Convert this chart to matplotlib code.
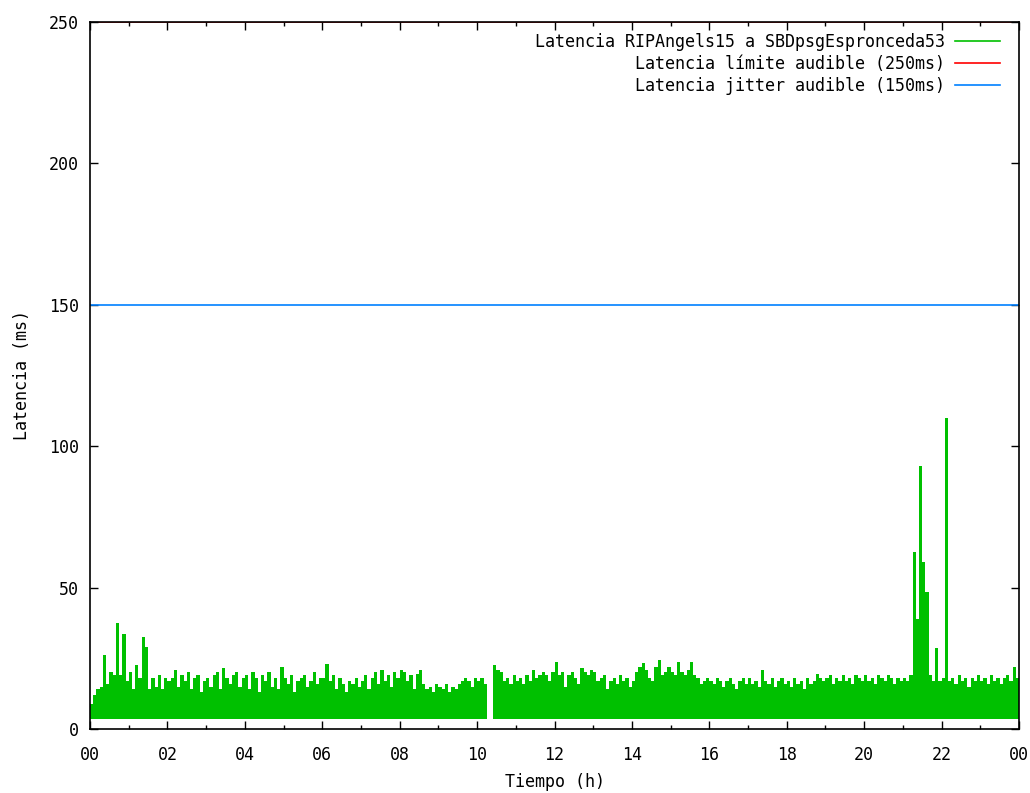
import numpy as np
import matplotlib
matplotlib.use("Agg")
import matplotlib.pyplot as plt
from matplotlib.ticker import FixedLocator, MultipleLocator


# Latencia maxima cada 5 minutos (ms), una fila por hora
latencia_max = [
    9, 12, 14, 15, 26, 16, 20, 19, 37.5, 19, 33.5, 17,          # 00
    20, 14, 22.5, 18, 32.5, 29, 14, 18, 15, 19, 14, 18,         # 01
    17, 18, 21, 15, 19, 17, 20, 14, 18, 19, 13, 17,             # 02
    18, 15, 19, 20, 14, 21.5, 18, 16, 19, 20, 15, 18,           # 03
    19, 14, 20, 18, 13, 19, 17, 20, 15, 18, 14, 22,             # 04
    18, 16, 19, 13, 17, 18, 19, 15, 17, 20, 16, 18,             # 05
    18, 23, 17, 19, 14, 18, 16, 13, 17, 16, 18, 15,             # 06
    17, 19, 14, 18, 20, 16, 21, 17, 19, 15, 20, 18,             # 07
    21, 20, 17, 19, 14, 19.5, 21, 16, 14, 15, 13, 16,           # 08
    15, 14, 16, 13, 15, 14, 16, 17, 18, 17, 15, 18,             # 09
    17, 18, 16, 19.5, np.nan, 22.5, 21, 20, 17, 18, 16, 19,     # 10
    17, 18, 16, 19, 17, 21, 18, 19, 20, 19, 17, 20,             # 11
    23.7, 19, 20, 15, 19, 20, 18, 16, 21.5, 20, 19, 21,         # 12
    20, 17, 18, 19, 14, 17, 18, 16, 19, 17, 18, 15,             # 13
    17, 20, 22, 23.3, 21, 18, 17, 22, 24.4, 19, 20, 22,         # 14
    20, 19, 23.7, 20, 19, 21, 23.7, 19, 18, 16, 17, 18,         # 15
    17, 16, 18, 17, 15, 17, 18, 16, 14, 17, 18, 16,             # 16
    18, 16, 17, 15, 20.8, 17, 16, 18, 15, 17, 18, 16,           # 17
    17, 15, 18, 16, 17, 14, 18, 16, 17, 19.5, 18, 17,           # 18
    18, 19, 16, 18, 17, 19, 17, 18, 16, 19, 18, 17,             # 19
    19, 17, 18, 16, 19, 18, 17, 19, 18, 16, 18, 17,             # 20
    18, 17, 19, 62.6, 39, 93, 59, 48.5, 19, 17, 28.6, 17,       # 21
    18, 110, 17, 18, 16, 19, 17, 18, 15, 18, 17, 19,            # 22
    17, 18, 16, 19, 17, 18, 16, 18, 19, 17, 22, 18,             # 23
    18,
]
latencia_min = 3.5          # suelo de la banda verde
limite_audible = 250
jitter_audible = 150

horas = np.arange(len(latencia_max)) / 12.0

VERDE = "#00c000"
ROJO = "#ff0000"
AZUL = "#0080ff"
FUENTE = "DejaVu Sans Mono"

plt.rcParams["font.family"] = FUENTE
plt.rcParams["font.size"] = 12

fig = plt.figure(figsize=(10.30, 7.93), dpi=100)
ax = fig.add_axes([0.0874, 0.0807, 0.9019, 0.8916])

ax.fill_between(horas, latencia_min, np.array(latencia_max, dtype=float),
                step="post", color=VERDE, linewidth=0, zorder=2)
ax.plot([], [], color=VERDE, lw=1.2, label="Latencia RIPAngels15 a SBDpsgEspronceda53")
ax.axhline(limite_audible, color=ROJO, lw=1.2, zorder=1,
           label="Latencia límite audible (250ms)")
ax.axhline(jitter_audible, color=AZUL, lw=1.2, zorder=3,
           label="Latencia jitter audible (150ms)")

ax.set_xlim(0, 24)
ax.set_ylim(0, 250)

ticks_x = list(range(0, 25, 2))
ax.xaxis.set_major_locator(FixedLocator(ticks_x))
ax.set_xticklabels([f"{h % 24:02d}" for h in ticks_x])
ax.xaxis.set_minor_locator(MultipleLocator(1))
ax.yaxis.set_major_locator(MultipleLocator(50))

ax.tick_params(which="both", direction="in", top=True, right=True, width=1, colors="black")
ax.tick_params(which="major", length=6)
ax.tick_params(which="minor", length=3)
ax.tick_params(axis="x", pad=12)
ax.tick_params(axis="y", pad=8)

for s in ax.spines.values():
    s.set_linewidth(1.2)
    s.set_zorder(5)

ax.set_xlabel("Tiempo (h)", labelpad=7)
ax.set_ylabel("Latencia (ms)", labelpad=13)

ax.legend(loc="upper right", bbox_to_anchor=(0.987, 0.9943), frameon=False,
          markerfirst=False, handlelength=2.7, handletextpad=0.6,
          labelspacing=0.25, borderaxespad=0, borderpad=0.4)

fig.savefig("out.png", dpi=100)
